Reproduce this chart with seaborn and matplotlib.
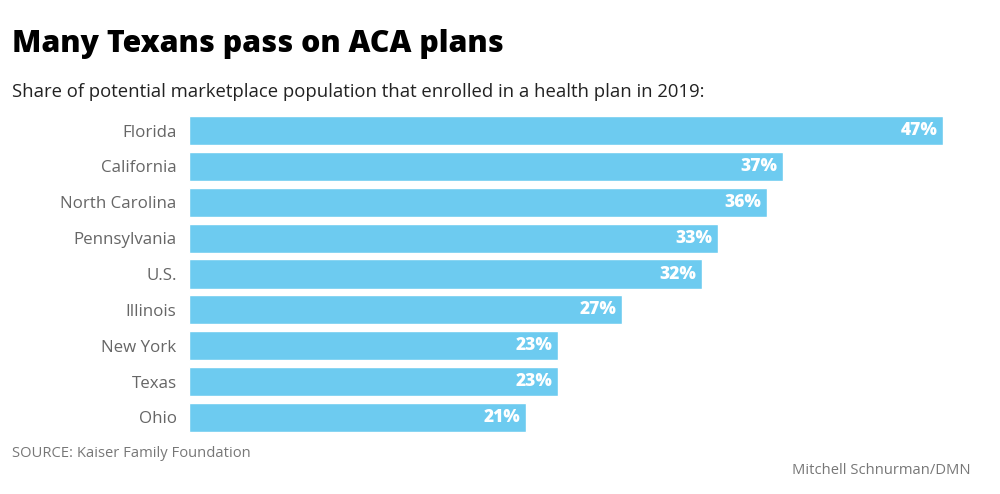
import pandas as pd
import seaborn as sns
import matplotlib.pyplot as plt

# Data
states = ['Florida', 'California', 'North Carolina', 'Pennsylvania', 'U.S.',
          'Illinois', 'New York', 'Texas', 'Ohio']
enrolled_pct = [47, 37, 36, 33, 32, 27, 23, 23, 21]

df = pd.DataFrame({'State': states, 'Share': enrolled_pct})

sns.set_style('white')
plt.rcParams['font.family'] = ['Open Sans', 'DejaVu Sans']

fig = plt.figure(figsize=(10, 4.94), dpi=100)
ax = fig.add_axes([0.189, 0.1186, 0.754, 0.6534])

sns.barplot(x='Share', y='State', data=df, color='#6dcbf0', saturation=1,
            width=0.81, ax=ax)

ax.set_xlim(0, 47)
ax.set_xlabel('')
ax.set_ylabel('')
ax.set_xticks([])
ax.tick_params(axis='y', length=0, pad=9, labelsize=12.2, labelcolor='#666666')
sns.despine(ax=ax, left=True, bottom=True)

# value labels inside the bar ends
for i, v in enumerate(df['Share']):
    ax.text(v - 0.35, i, f'{v}%', ha='right', va='center', color='white',
            fontsize=12.5, fontweight='heavy')

fig.text(0.012, 0.895, 'Many Texans pass on ACA plans', fontsize=21.8,
         fontweight='heavy', color='black', ha='left', va='baseline')
fig.text(0.012, 0.804, 'Share of potential marketplace population that enrolled in a health plan in 2019:',
         fontsize=13.3, color='#222222', ha='left', va='baseline')
fig.text(0.012, 0.074, 'SOURCE: Kaiser Family Foundation', fontsize=10.6,
         color='#777777', ha='left', va='baseline')
fig.text(0.970, 0.040, 'Mitchell Schnurman/DMN', fontsize=10.6,
         color='#777777', ha='right', va='baseline')

fig.savefig('out.png', dpi=100)
